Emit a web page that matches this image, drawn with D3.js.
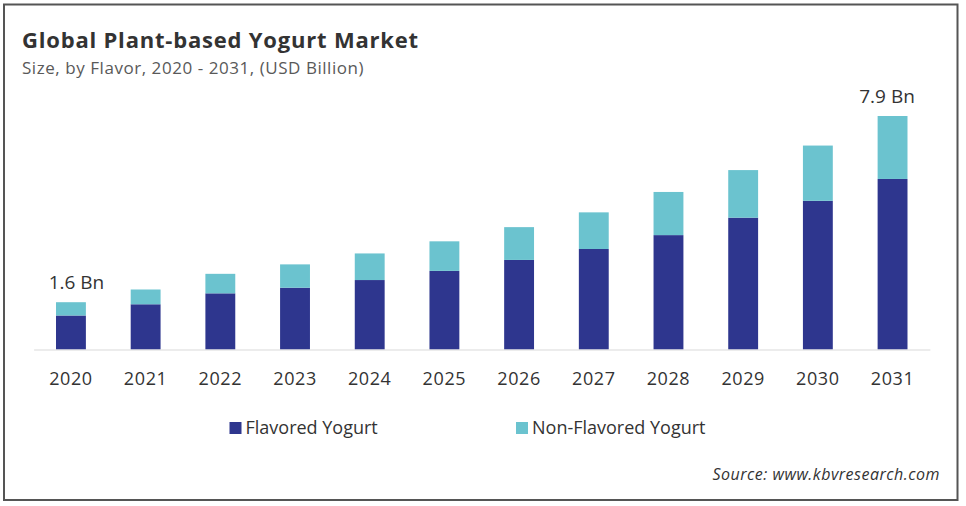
<!DOCTYPE html>
<html lang="en">
  <head>
    <meta charset="UTF-8" />
    <script src="https://d3js.org/d3.v7.min.js"></script>
    <title>Global Plant-based Yogurt Market</title>
    <style type="text/css">
      body {
        margin: 0;
        background: #fff;
      }
      text {
        font-family: 'Open Sans', sans-serif;
      }
      .title {
        fill: #333;
        font-size: 22px;
        font-weight: bold;
        letter-spacing: 0.8px;
      }
      .subtitle {
        fill: #595959;
        font-size: 17px;
        letter-spacing: 0.55px;
      }
      .year text {
        fill: #333;
        font-size: 18px;
        letter-spacing: 0.6px;
      }
      .total-label {
        fill: #333;
        font-size: 19px;
      }
      .legend-label {
        fill: #333;
        font-size: 18px;
      }
      .source {
        fill: #333;
        font-size: 16px;
        font-style: italic;
        letter-spacing: 0.5px;
      }
    </style>
  </head>
  <body>
    <svg width="966" height="506"></svg>
  </body>
  <script type="text/javascript">
    // values (USD Billion)
    const years = ['2020', '2021', '2022', '2023', '2024', '2025', '2026', '2027', '2028', '2029', '2030', '2031'];
    const flavored = [1.15, 1.53, 1.9, 2.09, 2.35, 2.66, 3.03, 3.4, 3.87, 4.46, 5.03, 5.77];
    const nonFlavored = [0.45, 0.5, 0.66, 0.79, 0.9, 1.0, 1.11, 1.24, 1.46, 1.61, 1.87, 2.13];
    const seriesNames = ['Flavored Yogurt', 'Non-Flavored Yogurt'];
    const totalLabels = { 2020: '1.6 Bn', 2031: '7.9 Bn' };

    const colors = ['#2e368e', '#6bc3cf'];

    const svg = d3.select('svg');

    // frame
    svg
      .append('rect')
      .attr('x', 4)
      .attr('y', 4.5)
      .attr('width', 953.5)
      .attr('height', 495.5)
      .attr('fill', 'none')
      .attr('stroke', '#555')
      .attr('stroke-width', 2);

    svg.append('text').attr('class', 'title').attr('x', 22).attr('y', 48).text('Global Plant-based Yogurt Market');
    svg.append('text').attr('class', 'subtitle').attr('x', 22).attr('y', 74).text('Size, by Flavor, 2020 - 2031, (USD Billion)');

    const baseline = 349.5;

    const xScale = d3.scaleBand().domain(years).range([33.6, 929.9]).paddingInner(0.6).paddingOuter(0.3);
    const yScale = d3.scaleLinear().domain([0, 7.9]).range([baseline, 116]);

    const table = years.map((y, i) => ({ year: y, flavored: flavored[i], nonFlavored: nonFlavored[i] }));
    const stacked = d3.stack().keys(['flavored', 'nonFlavored'])(table);

    const g = svg.append('g');

    g.selectAll('g.series')
      .data(stacked)
      .enter()
      .append('g')
      .attr('class', 'series')
      .attr('fill', (d, i) => colors[i])
      .selectAll('rect')
      .data((d) => d)
      .enter()
      .append('rect')
      .attr('x', (d) => xScale(d.data.year))
      .attr('width', xScale.bandwidth())
      .attr('y', (d) => yScale(d[1]))
      .attr('height', (d) => yScale(d[0]) - yScale(d[1]));

    // x axis
    const xAxis = svg
      .append('g')
      .attr('class', 'year')
      .attr('transform', `translate(0, ${baseline})`)
      .call(d3.axisBottom(xScale).tickSize(0).tickPadding(23));
    xAxis.select('.domain').attr('stroke', '#d9d9d9').attr('stroke-width', 1.2);
    xAxis.selectAll('text').attr('font-family', null).attr('font-size', null);

    // total labels, nudged outward like the original
    g.selectAll('text.total-label')
      .data(table.filter((d) => totalLabels[d.year]))
      .enter()
      .append('text')
      .attr('class', 'total-label')
      .attr('text-anchor', 'middle')
      .attr('x', (d) => xScale(d.year) + xScale.bandwidth() / 2 + (d.year === years[0] ? 5.5 : -5.5))
      .attr('y', (d) => yScale(d.flavored + d.nonFlavored) - 13)
      .text((d) => totalLabels[d.year]);

    // legend
    const legendX = [229.5, 516];
    const legend = svg
      .selectAll('g.legend')
      .data(seriesNames)
      .enter()
      .append('g')
      .attr('class', 'legend')
      .attr('transform', (d, i) => `translate(${legendX[i]}, 422)`);
    legend.append('rect').attr('width', 12).attr('height', 12).attr('fill', (d, i) => colors[i]);
    legend.append('text').attr('class', 'legend-label').attr('x', 16).attr('y', 11.5).text((d) => d);

    svg
      .append('text')
      .attr('class', 'source')
      .attr('x', 940)
      .attr('y', 480)
      .attr('text-anchor', 'end')
      .text('Source: www.kbvresearch.com');
  </script>
</html>
